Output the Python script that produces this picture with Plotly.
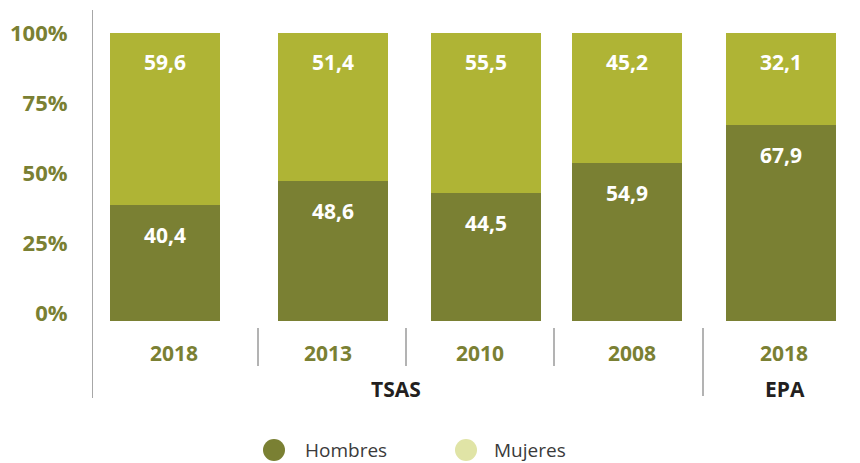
import plotly.graph_objects as go

# ---- data ----
years = ["2018", "2013", "2010", "2008", "2018"]
sources = ["TSAS", "EPA"]
hombres = [40.4, 48.6, 44.5, 54.9, 67.9]
mujeres = [59.6, 51.4, 55.5, 45.2, 32.1]
y_ticks = [0, 25, 50, 75, 100]

# ---- layout constants (x units equal page pixels) ----
x_pos = [164.5, 333, 486, 627, 780.5]
bar_w = 110
sep_x = [258, 406, 554, 703]
src_x = [396, 785]
year_x = [174, 328, 480, 632, 784]

C_H = "#7a8033"
C_M = "#afb435"
C_M_LEG = "#e0e4a6"
FONT = "Open Sans"

def fmt(v):
    return f"{v:.1f}".replace(".", ",")

fig = go.Figure()
fig.add_trace(go.Bar(x=x_pos, y=hombres, width=bar_w, marker=dict(color=C_H, line_width=0),
                     name="Hombres", showlegend=False, hoverinfo="skip"))
fig.add_trace(go.Bar(x=x_pos, y=mujeres, width=bar_w, marker=dict(color=C_M, line_width=0),
                     name="Mujeres", showlegend=False, hoverinfo="skip"))
# invisible trace to carry the tick axis
fig.add_trace(go.Scatter(x=[x_pos[0]], y=[50], yaxis="y2", mode="markers",
                         marker=dict(opacity=0), showlegend=False, hoverinfo="skip"))

lab_font = dict(family=FONT, size=21, color="white", weight="bold")
ann = []
for xp, h, m in zip(x_pos, hombres, mujeres):
    ann.append(dict(x=xp, y=h, xref="x", yref="y", text=fmt(h), showarrow=False,
                    yanchor="middle", yshift=-30, font=lab_font))
    ann.append(dict(x=xp, y=min(h + m, 100), xref="x", yref="y", text=fmt(m), showarrow=False,
                    yanchor="middle", yshift=-29, font=lab_font))
for xp, yr in zip(year_x, years):
    ann.append(dict(x=xp, y=-0.111, xref="x", yref="paper", text=yr, showarrow=False,
                    yanchor="middle", font=dict(family=FONT, size=21, color=C_H, weight="bold")))
for xp, s in zip(src_x, sources):
    ann.append(dict(x=xp, y=-0.236, xref="x", yref="paper", text=s, showarrow=False,
                    yanchor="middle", font=dict(family=FONT, size=21, color="#231f20", weight="bold")))

# manual legend
leg = [("Hombres", C_H, 274, 303), ("Mujeres", C_M_LEG, 466, 492)]
shapes = []
ly = (321 - 450) / 288
r = 11 / 288
for name, col, cx, tx in leg:
    shapes.append(dict(type="circle", xref="x", yref="paper", x0=cx - 11, x1=cx + 11,
                       y0=ly - r, y1=ly + r, fillcolor=col, line_width=0))
    ann.append(dict(x=tx, y=ly, xref="x", yref="paper", text=name, showarrow=False,
                    xanchor="left", yanchor="middle",
                    font=dict(family=FONT, size=19, color="#3a3a3a")))

# axis line and separators
shapes.append(dict(type="line", xref="x", yref="paper", x0=92, x1=92, y0=1.08, y1=-0.267,
                   line=dict(color="#8a8a8a", width=1.5)))
for i, sx in enumerate(sep_x):
    y_bot = -0.26 if i == len(sep_x) - 1 else -0.156
    shapes.append(dict(type="line", xref="x", yref="paper", x0=sx, x1=sx, y0=-0.024, y1=y_bot,
                       line=dict(color="#9a9a9a", width=1.5)))

fig.update_layout(
    width=852, height=455,
    margin=dict(l=84, r=10, t=25, b=142, autoexpand=False),
    paper_bgcolor="white", plot_bgcolor="white",
    barmode="stack", bargap=0,
    xaxis=dict(range=[92, 850], visible=False, fixedrange=True, automargin=False),
    yaxis=dict(range=[0, 100], visible=False, fixedrange=True, automargin=False),
    yaxis2=dict(range=[-2.86, 100], overlaying="y", side="left", tickvals=y_ticks,
                ticktext=[f"{t}%" for t in y_ticks], showgrid=False, zeroline=False,
                showline=False, ticks="outside", ticklen=19, tickcolor="rgba(0,0,0,0)",
                fixedrange=True, automargin=False,
                tickfont=dict(family=FONT, size=22, color=C_H, weight="bold")),
    annotations=ann, shapes=shapes, showlegend=False,
)
fig.write_html("out.html")
